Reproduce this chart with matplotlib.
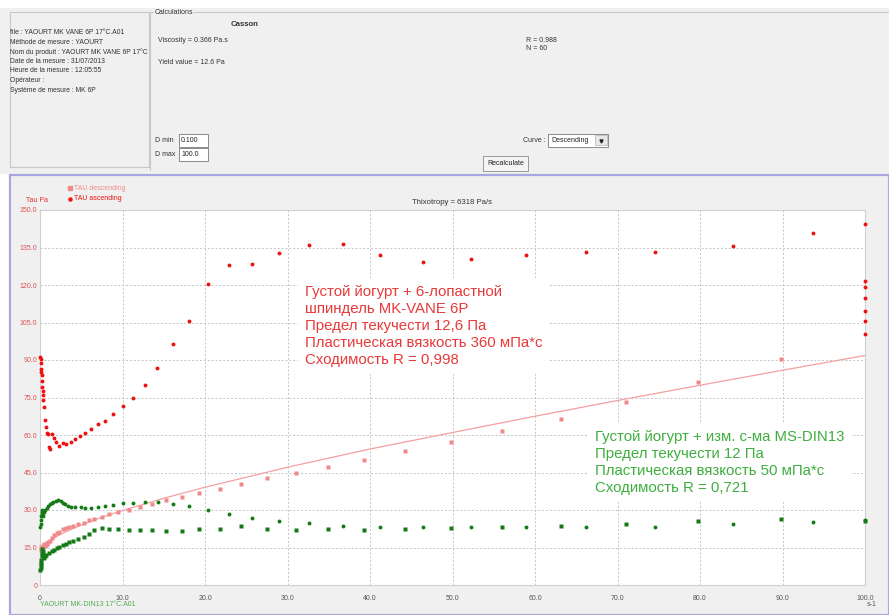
import matplotlib.pyplot as plt
from matplotlib.patches import Rectangle

plt.rcParams['font.family'] = ['Liberation Sans', 'DejaVu Sans']

# TAU ascending, MK-VANE 6P (red circles)
asc_x = [0.05, 0.08, 0.12, 0.15, 0.18, 0.22, 0.27, 0.3, 0.33, 0.38, 0.42, 0.45, 0.55, 0.7, 0.85,
         1.0, 1.1, 1.2, 1.45, 1.7, 1.9, 2.3, 2.75, 3.2, 3.7, 4.3, 4.9, 5.5, 6.2, 7.0, 7.9, 8.9,
         10.0, 11.3, 12.7, 14.2, 16.1, 18.1, 20.4, 22.9, 25.7, 29.0, 32.6, 36.7, 41.2, 46.4,
         52.2, 58.9, 66.2, 74.5, 84.0, 93.7, 100, 100, 100, 100, 100, 100, 100]
asc_y = [91.3, 90.4, 88.7, 86.5, 85.3, 84.0, 81.5, 79.4, 77.5, 76.0, 74.0, 71.2, 66.0, 63.3, 61.0,
         60.4, 55.2, 54.4, 60.3, 58.8, 57.3, 55.6, 56.8, 56.4, 57.1, 58.3, 59.6, 60.8, 62.5, 64.3,
         65.5, 68.3, 71.5, 74.9, 80.0, 86.8, 96.4, 105.6, 120.3, 128.1, 128.4, 132.7, 136.0, 136.3,
         132.1, 129.2, 130.5, 132.1, 133.3, 133.2, 135.7, 140.7, 144.4, 121.6, 119.1, 114.7, 109.6,
         105.7, 100.3]

# TAU descending, MK-VANE 6P (pink squares)
desc_x = [89.8, 79.8, 71.0, 63.1, 56.0, 49.8, 44.3, 39.3, 34.9, 31.0, 27.5, 24.4, 21.8, 19.3,
          17.2, 15.3, 13.6, 12.1, 10.75, 9.5, 8.4, 7.5, 6.6, 5.9, 5.3, 4.6, 4.0, 3.55, 3.15, 2.75,
          2.35, 2.0, 1.7, 1.45, 1.2, 1.0, 0.9, 0.8, 0.7, 0.6, 0.5, 0.4, 0.3, 0.2, 0.15, 0.1]
desc_y = [90.4, 81.1, 73.2, 66.5, 61.5, 57.1, 53.6, 50.0, 47.2, 44.8, 42.7, 40.5, 38.5, 36.9,
          35.3, 34.0, 32.4, 31.2, 30.0, 29.2, 28.4, 27.3, 26.5, 26.0, 24.9, 24.4, 23.7, 23.3, 22.9,
          22.3, 21.3, 20.7, 19.9, 18.7, 17.8, 17.2, 16.6, 16.9, 16.2, 15.8, 16.4, 15.5, 15.0, 14.6,
          15.3, 14.2]

# Casson fit line (descending curve)
fit_x = [0.1, 0.5, 1, 2, 3, 5, 7.5, 10, 15, 20, 30, 40, 50, 60, 70, 80, 90, 100]
fit_y = [14.0, 15.8, 17.3, 19.4, 21.1, 24.0, 27.1, 29.8, 34.7, 39.1, 47.1, 54.4, 61.0, 67.5,
         73.8, 79.9, 85.9, 91.8]

# MS-DIN13 ascending (green circles)
gc_x = [0.05, 0.08, 0.1, 0.15, 0.2, 0.25, 0.3, 0.35, 0.4, 0.5, 0.6, 0.8, 1.0, 1.2, 1.4, 1.6, 1.9,
        2.2, 2.5, 2.8, 3.0, 3.45, 3.8, 4.3, 5.0, 5.5, 6.2, 7.0, 7.9, 8.9, 10.0, 11.3, 12.7, 14.3,
        16.1, 18.1, 20.4, 22.9, 25.7, 29.0, 32.6, 36.7, 41.2, 46.4, 52.2, 58.9, 66.2, 74.5, 84.0,
        93.7, 100]
gc_y = [23.3, 24.5, 26.0, 27.5, 28.6, 29.4, 30.0, 28.8, 27.8, 29.2, 30.2, 30.7, 31.6, 32.4, 33.0,
        33.3, 33.8, 34.2, 33.6, 33.0, 32.4, 31.8, 31.4, 31.3, 31.1, 30.8, 30.8, 31.1, 31.6, 31.9,
        32.8, 32.8, 33.1, 33.2, 32.5, 31.5, 30.1, 28.4, 26.8, 25.7, 24.7, 23.6, 23.2, 23.1, 23.1,
        23.3, 23.3, 23.3, 24.4, 25.2, 26.0]

# MS-DIN13 descending (green squares)
gs_x = [100, 89.8, 79.8, 71.0, 63.1, 56.0, 49.8, 44.3, 39.3, 34.9, 31.0, 27.5, 24.4, 21.8, 19.3,
        17.2, 15.3, 13.6, 12.1, 10.75, 9.5, 8.4, 7.5, 6.6, 5.9, 5.3, 4.6, 4.0, 3.55, 3.15, 2.75,
        2.35, 2.0, 1.7, 1.4, 1.1, 0.75, 0.6, 0.5, 0.4, 0.35, 0.3, 0.25, 0.2, 0.15, 0.12, 0.1,
        0.08, 0.05]
gs_y = [25.8, 26.5, 25.7, 24.4, 23.6, 23.3, 22.7, 22.3, 22.0, 22.3, 21.9, 22.5, 23.6, 22.4, 22.3,
        21.6, 21.7, 22.0, 22.0, 22.0, 22.3, 22.5, 22.8, 21.9, 20.4, 19.3, 18.4, 17.7, 17.1, 16.6,
        16.0, 15.3, 14.7, 14.1, 13.5, 12.9, 12.0, 11.5, 11.0, 12.5, 13.8, 14.5, 13.0, 11.5, 10.0,
        9.0, 8.0, 7.0, 6.2]

x_ticks = [0, 10, 20, 30, 40, 50, 60, 70, 80, 90, 100]
x_labels = ['0', '10.0', '20.0', '30.0', '40.0', '50.0', '60.0', '70.0', '80.0', '90.0', '100.0']
y_ticks = [0, 15, 30, 45, 60, 75, 90, 105, 120, 135, 150]
y_labels = ['0', '15.0', '30.0', '45.0', '60.0', '75.0', '90.0', '105.0', '120.0', '135.0', '150.0']

info_lines = ['file : YAOURT MK VANE 6P 17°C.A01', 'Méthode de mesure : YAOURT',
              'Nom du produit : YAOURT MK VANE 6P 17°C', 'Date de la mesure : 31/07/2013',
              'Heure de la mesure : 12:05:55', 'Opérateur :', 'Système de mesure : MK 6P']

note_red = ('Густой йогурт + 6-лопастной\nшпиндель MK-VANE 6P\nПредел текучести 12,6 Па\n'
            'Пластическая вязкость 360 мПа*с\nСходимость R = 0,998')
note_green = ('Густой йогурт + изм. с-ма MS-DIN13\nПредел текучести 12 Па\n'
              'Пластическая вязкость 50 мПа*с\nСходимость R = 0,721')

W, H = 889, 615
fig = plt.figure(figsize=(W / 100, H / 100), dpi=100)
fig.patch.set_facecolor('white')

# background layer in pixel coordinates
bg = fig.add_axes([0, 0, 1, 1])
bg.set_xlim(0, W)
bg.set_ylim(H, 0)
bg.axis('off')

ui = '#333333'
fs = 5.0
bg.add_patch(Rectangle((0, 8), W, 166, facecolor='#f0f0f0', edgecolor='none'))
bg.add_patch(Rectangle((9.5, 12), 139, 155, facecolor='#f0f0f0', edgecolor='#c8c8c8', lw=0.8))
bg.plot([150, 150, W], [170, 12, 12], color='#c8c8c8', lw=0.8)
bg.text(155, 13, 'Calculations', fontsize=fs, color=ui, va='center',
        bbox=dict(facecolor='#f0f0f0', edgecolor='none', pad=0.5))
for i, line in enumerate(info_lines):
    bg.text(10, 32.5 + i * 9.6, line, fontsize=4.85, color=ui, va='center')
bg.text(245, 25, 'Casson', fontsize=5.6, color=ui, va='center', ha='center', fontweight='bold')
bg.text(158, 40, 'Viscosity = 0.366 Pa.s', fontsize=fs, color=ui, va='center')
bg.text(158, 62, 'Yield value = 12.6 Pa', fontsize=fs, color=ui, va='center')
bg.text(526, 40, 'R = 0.988', fontsize=fs, color=ui, va='center')
bg.text(526, 49, 'N = 60', fontsize=fs, color=ui, va='center')

bg.text(155, 141, 'D min', fontsize=fs, color=ui, va='center')
bg.text(155, 154, 'D max', fontsize=fs, color=ui, va='center')
for yy, val in [(134, '0.100'), (148, '100.0')]:
    bg.add_patch(Rectangle((178.5, yy), 29, 12.5, facecolor='white', edgecolor='#8a8a8a', lw=0.7))
    bg.text(181, yy + 6.5, val, fontsize=fs, color='#222222', va='center')

bg.text(523, 140, 'Curve :', fontsize=fs, color=ui, va='center')
bg.add_patch(Rectangle((548, 133.5), 60, 13, facecolor='white', edgecolor='#8a8a8a', lw=0.7))
bg.add_patch(Rectangle((595, 135), 11.5, 10, facecolor='#e8e8e8', edgecolor='#b0b0b0', lw=0.5))
bg.plot(600.7, 140.5, marker='v', ms=2.2, color='#222222')
bg.text(551, 140, 'Descending', fontsize=fs, color='#222222', va='center')

bg.add_patch(Rectangle((483, 156), 45, 15, facecolor='#f4f4f4', edgecolor='#9a9a9a', lw=0.7))
bg.text(505.5, 163.5, 'Recalculate', fontsize=fs, color='#222222', va='center', ha='center')

# chart panel
bg.add_patch(Rectangle((10, 175), W - 10, H - 175, facecolor='#f0f0f0', edgecolor='#a8a8e0', lw=1.6))
bg.plot(70, 188, marker='s', ms=2.2, color='#f08a8a', ls='none')
bg.text(74, 188, 'TAU descending', fontsize=fs, color='#f08a8a', va='center')
bg.plot(70, 199, marker='o', ms=2.2, color='#ee1111', ls='none')
bg.text(74, 199, 'TAU ascending', fontsize=fs, color='#ee1111', va='center')
bg.text(37, 200, 'Tau Pa', fontsize=fs, color='#e03030', va='center', ha='center')
bg.text(452, 202, 'Thixotropy = 6318 Pa/s', fontsize=5.6, color=ui, va='center', ha='center')
bg.text(877, 605, 's-1', fontsize=fs, color='#555555', va='center', ha='right')
bg.text(40, 604, 'YAOURT MK-DIN13 17°C.A01', fontsize=fs, color='#55aa55', va='center')

# plot area
ax = fig.add_axes([40 / W, 1 - 585 / H, 825 / W, 375 / H])
ax.set_facecolor('white')
ax.set_xlim(0, 100)
ax.set_ylim(0, 150)
ax.set_xticks(x_ticks)
ax.set_xticklabels(x_labels)
ax.set_yticks(y_ticks)
ax.set_yticklabels(y_labels)
ax.tick_params(axis='x', length=0, pad=7, labelsize=fs, labelcolor='#555555')
ax.tick_params(axis='y', length=0, pad=2, labelsize=fs, labelcolor='#e05050')
ax.grid(True, color='#c4c4c4', lw=0.7, linestyle=(0, (2, 2)))
ax.set_axisbelow(True)
for s in ax.spines.values():
    s.set_color('#d0d0d0')
    s.set_linewidth(0.8)

ax.plot(fit_x, fit_y, color='#f4a0a0', lw=0.9, zorder=2)
ax.plot(desc_x, desc_y, 's', ms=2.8, color='#f08a8a', mec='none', zorder=3, clip_on=False)
ax.plot(asc_x, asc_y, 'o', ms=2.8, color='#ee1111', mec='none', zorder=4, clip_on=False)
ax.plot(gs_x, gs_y, 's', ms=3.2, color='#157a15', mec='none', zorder=3, clip_on=False)
ax.plot(gc_x, gc_y, 'o', ms=2.8, color='#157a15', mec='none', zorder=3, clip_on=False)

ax.text(32.1, 120.0, note_red, fontsize=10.8, color='#e8393a', va='top', ha='left',
        linespacing=1.27, zorder=5,
        bbox=dict(boxstyle='square,pad=0.45', facecolor='white', edgecolor='none'))
ax.text(67.3, 61.8, note_green, fontsize=10.8, color='#3fae3f', va='top', ha='left',
        linespacing=1.27, zorder=5,
        bbox=dict(boxstyle='square,pad=0.45', facecolor='white', edgecolor='none'))

plt.savefig('out.png', dpi=100)
